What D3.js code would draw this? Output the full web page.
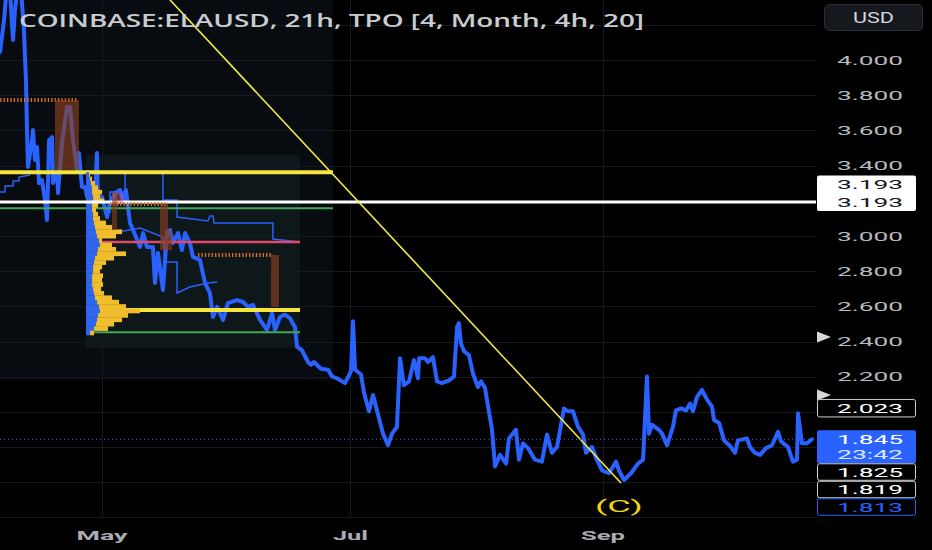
<!DOCTYPE html>
<html><head><meta charset="utf-8">
<script src="https://cdn.jsdelivr.net/npm/d3@7"></script>
<style>html,body{margin:0;padding:0;background:#000;}svg{display:block;}</style>
</head><body>
<svg id="chart" width="932" height="550"></svg>
<script>
// ---------------- DATA ----------------
const titleText = "COINBASE:ELAUSD, 21h, TPO [4, Month, 4h, 20]";
const currencyText = "USD";

const priceDates = [
"2024-04-05 23","2024-04-06 23","2024-04-07 16","2024-04-08 10","2024-04-08 22","2024-04-09 04","2024-04-09 15","2024-04-10 09","2024-04-11 03","2024-04-11 20",
"2024-04-12 08","2024-04-12 14","2024-04-12 20","2024-04-13 20","2024-04-14 01","2024-04-14 13","2024-04-15 01","2024-04-15 13","2024-04-16 06","2024-04-17 00",
"2024-04-17 12","2024-04-18 00","2024-04-18 18","2024-04-18 23","2024-04-19 23","2024-04-20 05","2024-04-21 04","2024-04-22 10","2024-04-23 04","2024-04-23 21",
"2024-04-24 21","2024-04-25 08","2024-04-26 02","2024-04-26 20","2024-04-27 08","2024-04-28 01","2024-04-29 07","2024-04-29 18","2024-04-30 00","2024-05-01 00",
"2024-05-02 06","2024-05-02 23","2024-05-04 05","2024-05-05 10","2024-05-06 04","2024-05-06 21","2024-05-07 21","2024-05-08 15","2024-05-10 08","2024-05-11 02",
"2024-05-12 01","2024-05-13 12","2024-05-14 00","2024-05-14 18","2024-05-15 23","2024-05-16 23","2024-05-17 17","2024-05-18 10","2024-05-19 16","2024-05-20 15",
"2024-05-21 09","2024-05-22 14","2024-05-23 08","2024-05-25 01","2024-05-26 07","2024-05-27 12","2024-05-28 06","2024-05-29 06","2024-05-30 17","2024-05-31 22",
"2024-06-03 03","2024-06-04 15","2024-06-05 20","2024-06-07 02","2024-06-08 19","2024-06-10 12","2024-06-11 18","2024-06-12 11","2024-06-13 17","2024-06-14 22",
"2024-06-16 04","2024-06-17 09","2024-06-17 21","2024-06-19 02","2024-06-20 14","2024-06-21 07","2024-06-22 01","2024-06-23 18","2024-06-25 12","2024-06-26 11",
"2024-06-27 17","2024-06-29 16","2024-07-01 03","2024-07-01 15","2024-07-02 03","2024-07-03 14","2024-07-04 08","2024-07-05 13","2024-07-06 13","2024-07-07 06",
"2024-07-09 00","2024-07-10 05","2024-07-11 05","2024-07-12 10","2024-07-13 04","2024-07-14 03","2024-07-15 09","2024-07-16 14","2024-07-17 14","2024-07-17 20",
"2024-07-19 07","2024-07-20 01","2024-07-21 06","2024-07-22 06","2024-07-23 11","2024-07-25 05","2024-07-26 10","2024-07-27 04","2024-07-27 15","2024-07-28 03",
"2024-07-28 21","2024-07-30 02","2024-07-31 02","2024-08-01 07","2024-08-02 01","2024-08-03 01","2024-08-03 12","2024-08-04 18","2024-08-05 12","2024-08-06 17",
"2024-08-08 05","2024-08-08 22","2024-08-10 15","2024-08-11 09","2024-08-12 09","2024-08-13 14","2024-08-15 07","2024-08-17 00","2024-08-18 06","2024-08-19 11",
"2024-08-20 17","2024-08-22 10","2024-08-23 10","2024-08-24 15","2024-08-25 21","2024-08-27 02","2024-08-27 20","2024-08-29 07","2024-08-30 12","2024-08-31 18",
"2024-09-02 11","2024-09-04 05","2024-09-04 22","2024-09-06 04","2024-09-07 21","2024-09-09 14","2024-09-10 20","2024-09-11 19","2024-09-12 07","2024-09-13 01",
"2024-09-14 18","2024-09-15 12","2024-09-16 17","2024-09-18 04","2024-09-18 22","2024-09-20 04","2024-09-21 09","2024-09-22 09","2024-09-23 02","2024-09-24 02",
"2024-09-25 07","2024-09-26 13","2024-09-27 18","2024-09-28 06","2024-09-29 12","2024-09-30 17","2024-10-02 10","2024-10-03 10","2024-10-04 03","2024-10-06 08",
"2024-10-07 02","2024-10-08 07","2024-10-09 13","2024-10-11 00","2024-10-12 12","2024-10-13 23","2024-10-14 17","2024-10-16 10","2024-10-17 15","2024-10-18 15",
"2024-10-18 21","2024-10-19 20","2024-10-21 02","2024-10-22 07"
];
const priceValues = [
4.045,4.227,4.426,4.398,4.199,4.114,4.284,4.426,4.398,4.170,
3.886,3.602,3.392,3.545,3.602,3.432,3.506,3.301,3.318,3.205,
3.091,3.545,3.562,3.301,3.358,3.244,3.528,3.733,3.733,3.545,
3.375,3.472,3.278,3.278,3.222,3.278,3.222,3.472,3.205,3.222,
3.108,3.188,3.244,3.261,3.205,3.261,3.074,3.034,2.938,3.017,
2.938,2.938,2.733,2.903,2.693,3.017,3.034,2.960,3.017,2.920,
3.017,2.960,2.881,2.864,2.733,2.676,2.540,2.597,2.523,2.619,
2.636,2.625,2.597,2.608,2.523,2.466,2.563,2.466,2.540,2.554,
2.532,2.482,2.372,2.351,2.284,2.268,2.284,2.246,2.240,2.202,
2.191,2.164,2.230,2.515,2.240,2.213,2.109,2.004,2.097,2.031,
1.877,1.811,1.877,1.916,2.306,2.152,2.174,2.295,2.191,2.306,
2.306,2.284,2.312,2.174,2.164,2.180,2.202,2.482,2.505,2.389,
2.345,2.323,2.218,2.141,2.174,2.136,2.070,1.899,1.690,1.756,
1.707,1.850,1.899,1.729,1.822,1.795,1.729,1.718,1.872,1.768,
1.801,2.020,2.004,2.004,1.916,1.872,1.768,1.801,1.729,1.668,
1.652,1.718,1.668,1.614,1.652,1.707,1.729,2.202,1.877,1.927,
1.899,1.877,1.811,1.916,2.009,2.020,2.009,2.048,2.004,2.086,
2.125,2.070,2.031,1.955,1.938,1.839,1.801,1.768,1.839,1.850,
1.801,1.768,1.756,1.795,1.811,1.888,1.833,1.801,1.718,1.729,
1.993,1.822,1.822,1.845
];

const yTickValues = [1.6,1.8,2.0,2.2,2.4,2.6,2.8,3.0,3.2,3.4,3.6,3.8,4.0,4.2];
const monthTickDates = ["2024-05-01 00","2024-07-01 00","2024-09-01 00"];
const monthTickLabels = ["May","Jul","Sep"];

// TPO sessions
const prevSessionRange = ["2024-04-01 00","2024-06-26 17"];
const prevSessionPrices = {high: 4.60, low: 2.182, poc: 3.362, val: 3.157};
const currSessionRange = ["2024-04-27 02","2024-06-18 15"];
const currSessionPrices = {high: 3.460, low: 2.364, vah: 2.966, poc: 2.580, val: 2.453};
const horizontalLevel = 3.193;

// Volume profile of the current session
const profilePrices = [3.350,3.325,3.300,3.275,3.250,3.225,3.200,3.175,3.150,3.125,3.100,3.075,3.050,3.025,3.000,2.975,2.950,2.925,2.900,2.875,2.850,2.825,2.800,2.775,2.750,2.725,2.700,2.675,2.650,2.625,2.600,2.575,2.550,2.525,2.500,2.475,2.450];
const profileVolume = [4,6,9,12,16,14,18,12,10,12,14,20,26,36,30,16,26,30,40,28,20,16,14,17,16,17,15,18,26,33,40,54,42,36,28,22,8];
const profileBlueVolume = [3,4,5,6,6,7,7,6,6,7,7,8,9,10,11,13,14,12,11,9,8,7,7,6,6,6,7,8,9,11,13,14,12,11,10,8,4];

// Developing value lines
const devLeftDates = ["2024-04-05 23","2024-04-07 05","2024-04-07 05","2024-04-09 04","2024-04-09 04","2024-04-10 15","2024-04-10 15","2024-04-13 08"];
const devLeftValues = [3.250,3.250,3.284,3.284,3.313,3.313,3.335,3.347];
const devUpperDates = ["2024-05-15 23","2024-05-15 23","2024-05-19 10","2024-05-19 10","2024-05-27 00","2024-05-27 12","2024-05-28 06","2024-05-28 12","2024-06-11 23","2024-06-11 23","2024-06-18 15"];
const devUpperValues = [3.358,3.205,3.205,3.108,3.085,3.114,3.114,3.074,3.074,2.983,2.966];
const devStubDates = ["2024-05-02 23","2024-05-02 23","2024-05-06 16","2024-05-06 16"];
const devStubValues = [3.131,3.250,3.250,3.358];
const devLowerDates = ["2024-05-03 17","2024-05-10 08","2024-05-15 23","2024-05-16 11","2024-05-19 10","2024-05-19 10","2024-05-22 14","2024-05-27 00","2024-05-29 06"];
const devLowerValues = [3.017,3.045,2.994,2.852,2.852,2.676,2.710,2.733,2.739];

// TPO period markers: dotted level + bar
const markLineStart = ["2024-04-01 00","2024-05-02 23","2024-05-24 14"];
const markLineEnd   = ["2024-04-25 03","2024-05-17 05","2024-06-11 23"];
const markLevel     = [3.773,3.182,2.892];
const markBarStart  = ["2024-04-19 11","2024-05-15 06","2024-06-11 12"];
const markBarEnd    = ["2024-04-25 08","2024-05-17 05","2024-06-13 11"];
const markBarLow    = [3.375,2.920,2.597];
const extraBarStart = ["2024-05-03 11","2024-05-16 11"];
const extraBarEnd   = ["2024-05-04 16","2024-05-18 05"];
const extraBarHigh  = [3.250,3.034];
const extraBarLow   = [3.034,2.920];
const pinkBarStart = ["2024-05-03 17"];
const pinkBarEnd   = ["2024-05-06 04"];
const pinkBarHigh  = [3.244];
const pinkBarLow   = [3.188];

// Trend line and wave label
const trendDates = ["2024-05-17 17","2024-09-05 10"];
const trendValues = [4.341,1.597];
const waveLabel = "(C)";
const waveLabelDate = "2024-09-04 22";
const waveLabelPrice = 1.466;

// Price scale labels
const lastPrice = 1.845;
const countdownText = "23:42";
const scaleLabelTexts  = ["3.193","3.193","2.023","1.845","1.825","1.819","1.813"];
const scaleLabelPrices = [3.193,3.193,2.023,1.845,1.825,1.819,1.813];
const flagPrices = [2.426,2.097];

// ---------------- CHART ----------------
const parse = d3.timeParse("%Y-%m-%d %H");
const plotW = 816, plotH = 517;
const svg = d3.select("#chart");
const FONT = "Roboto, 'Open Sans', sans-serif";

svg.append("rect").attr("width",932).attr("height",550).attr("fill","#000");

const x = d3.scaleTime().domain([parse("2024-04-05 23"), parse("2024-10-23 07")]).range([0, plotW]);
const y = d3.scaleLinear().domain([1.6, 4.0]).range([482.4, 60]);

svg.append("defs").append("clipPath").attr("id","plotclip")
  .append("rect").attr("x",0).attr("y",0).attr("width",plotW).attr("height",plotH);
const plot = svg.append("g").attr("clip-path","url(#plotclip)");

// session boxes
plot.append("rect")
  .attr("x", x(parse(prevSessionRange[0]))).attr("y", y(prevSessionPrices.high))
  .attr("width", x(parse(prevSessionRange[1])) - x(parse(prevSessionRange[0])))
  .attr("height", y(prevSessionPrices.low) - y(prevSessionPrices.high))
  .attr("fill", "#080c10");
plot.append("rect")
  .attr("x", x(parse(currSessionRange[0]))).attr("y", y(currSessionPrices.high))
  .attr("width", x(parse(currSessionRange[1])) - x(parse(currSessionRange[0])))
  .attr("height", y(currSessionPrices.low) - y(currSessionPrices.high))
  .attr("fill", "#0e171a");

// grid
plot.append("g").selectAll("line").data(yTickValues).join("line")
  .attr("x1",0).attr("x2",plotW).attr("y1",d=>Math.round(y(d))+0.5).attr("y2",d=>Math.round(y(d))+0.5)
  .attr("stroke","#16191e").attr("stroke-width",1);
plot.append("g").selectAll("line").data(monthTickDates).join("line")
  .attr("y1",0).attr("y2",plotH).attr("x1",d=>Math.round(x(parse(d)))+0.5).attr("x2",d=>Math.round(x(parse(d)))+0.5)
  .attr("stroke","#16191e").attr("stroke-width",1);
svg.append("line").attr("x1",0).attr("x2",plotW).attr("y1",plotH+0.5).attr("y2",plotH+0.5).attr("stroke","#16191e");

const lineGen = d3.line().x(d=>x(d[0])).y(d=>y(d[1]));
const pairs = (ds, vs) => ds.map((d,i)=>[parse(d), vs[i]]);

// developing value lines
[[devLeftDates,devLeftValues],[devUpperDates,devUpperValues],[devStubDates,devStubValues],[devLowerDates,devLowerValues]]
.forEach(([ds,vs])=>{
  plot.append("path").datum(pairs(ds,vs)).attr("d",lineGen)
    .attr("fill","none").attr("stroke","#2962ff").attr("stroke-width",1.5);
});

// price line
plot.append("path").datum(pairs(priceDates, priceValues))
  .attr("d", lineGen).attr("fill","none").attr("stroke","#2962ff")
  .attr("stroke-width",4).attr("stroke-linejoin","round").attr("stroke-linecap","round");

// session level lines
function hline(price, d0, d1, color, w){
  plot.append("line").attr("x1", x(parse(d0))).attr("x2", x(parse(d1)))
    .attr("y1", y(price)).attr("y2", y(price)).attr("stroke", color).attr("stroke-width", w);
}
hline(prevSessionPrices.poc, prevSessionRange[0], prevSessionRange[1], "#f6e53c", 4);
hline(prevSessionPrices.val, prevSessionRange[0], prevSessionRange[1], "#43a853", 2);
hline(currSessionPrices.vah, currSessionRange[0], currSessionRange[1], "#e2486a", 2.5);
hline(currSessionPrices.poc, currSessionRange[0], currSessionRange[1], "#f6e53c", 4);
hline(currSessionPrices.val, currSessionRange[0], currSessionRange[1], "#43a853", 2);

// volume profile
const volX = d3.scaleLinear().domain([0, d3.max(profileVolume)]).range([0, 54]);
const px0 = x(parse(currSessionRange[0]));
const half = 0.0125;
const prof = plot.append("g");
prof.selectAll("rect.b").data(profilePrices).join("rect").attr("class","b")
  .attr("x", px0).attr("y", d=>y(d+half)).attr("height", d=>y(d-half)-y(d+half)+0.3)
  .attr("width", (d,i)=>volX(profileBlueVolume[i])).attr("fill","#2f66f0");
prof.selectAll("rect.yv").data(profilePrices).join("rect").attr("class","yv")
  .attr("x", (d,i)=>px0+volX(profileBlueVolume[i])).attr("y", d=>y(d+half)).attr("height", d=>y(d-half)-y(d+half)+0.3)
  .attr("width", (d,i)=>Math.max(0, volX(profileVolume[i]) - volX(profileBlueVolume[i]))).attr("fill","#f0bd2c");

// white horizontal level across plot
plot.append("line").attr("x1",0).attr("x2",plotW).attr("y1",y(horizontalLevel)).attr("y2",y(horizontalLevel))
  .attr("stroke","#ffffff").attr("stroke-width",3);

// TPO markers
markLevel.forEach((lv,i)=>{
  plot.append("line").attr("x1",x(parse(markLineStart[i]))).attr("x2",x(parse(markLineEnd[i])))
    .attr("y1",y(lv)).attr("y2",y(lv)).attr("stroke","#e0702a").attr("stroke-width",4).attr("stroke-dasharray","1.3,2.1");
  plot.append("rect").attr("x",x(parse(markBarStart[i]))).attr("y",y(lv))
    .attr("width",x(parse(markBarEnd[i]))-x(parse(markBarStart[i]))).attr("height",y(markBarLow[i])-y(lv))
    .attr("fill","#8a4020").attr("opacity",0.65);
});
extraBarHigh.forEach((hv,i)=>{
  plot.append("rect").attr("x",x(parse(extraBarStart[i]))).attr("y",y(hv))
    .attr("width",x(parse(extraBarEnd[i]))-x(parse(extraBarStart[i]))).attr("height",y(extraBarLow[i])-y(hv))
    .attr("fill","#8a4020").attr("opacity",0.6);
});
pinkBarHigh.forEach((hv,i)=>{
  plot.append("rect").attr("x",x(parse(pinkBarStart[i]))).attr("y",y(hv))
    .attr("width",x(parse(pinkBarEnd[i]))-x(parse(pinkBarStart[i]))).attr("height",y(pinkBarLow[i])-y(hv))
    .attr("fill","#d05a6a").attr("opacity",0.45);
});

// trend line
plot.append("path").datum(pairs(trendDates, trendValues)).attr("d", lineGen)
  .attr("stroke","#f2e94a").attr("stroke-width",1.6).attr("fill","none");

// last price dotted line
plot.append("line").attr("x1",0).attr("x2",plotW).attr("y1",y(lastPrice)).attr("y2",y(lastPrice))
  .attr("stroke","#2962ff").attr("stroke-width",1).attr("stroke-dasharray","1,3");

// wave label
svg.append("text").attr("x", x(parse(waveLabelDate))-24).attr("y", y(waveLabelPrice)+6)
  .attr("textLength",48).attr("lengthAdjust","spacingAndGlyphs")
  .attr("font-family",FONT).attr("font-size",17).attr("fill","#f2d80e").text(waveLabel);

// ---- price-scale label boxes (layout: stacked rows) ----
const rowH = 17.5, bx = 817, bw = 99;
const fmt = d3.format(".3f");
const occupied = []; // [top,bottom] of scale label boxes
function labelText(txt, cy, color){
  svg.append("text").attr("x",837).attr("y",cy+4.6).attr("textLength",66).attr("lengthAdjust","spacingAndGlyphs")
    .attr("font-family",FONT).attr("font-size",13).attr("fill",color).text(txt);
}
const labelLayer = svg.append("g");
// 3.193 pair (white box, upper row pushed up)
const c193b = y(scaleLabelPrices[1]), c193a = c193b - rowH;
occupied.push([c193a-9, c193b+9]);
const c023 = y(scaleLabelPrices[2]);
occupied.push([c023-8.5, c023+9]);
const cLast = y(scaleLabelPrices[3]);
occupied.push([cLast-9, cLast - 9 + 2*rowH - 2 + 3*rowH]);

// right price scale tick labels (hidden where a label box sits)
const visibleTicks = yTickValues.filter(v => v <= 4.0 && !occupied.some(([a,b]) => y(v) > a-7 && y(v) < b+7));
svg.append("g").selectAll("text").data(visibleTicks).join("text")
  .attr("x",837).attr("y",d=>y(d)+4.6).attr("textLength",66).attr("lengthAdjust","spacingAndGlyphs")
  .attr("font-family",FONT).attr("font-size",13).attr("fill","#b6b9bf").text(d=>fmt(d));

// flags
flagPrices.forEach(p=>{
  const cy = y(p);
  svg.append("path").attr("d",`M817,${cy-5.5}L831,${cy}L817,${cy+5.5}Z`).attr("fill","#d8d8d8");
});

svg.append("rect").attr("x",bx).attr("y",c193a-9).attr("width",bw).attr("height",c193b-c193a+18).attr("rx",2).attr("fill","#ffffff");
labelText(scaleLabelTexts[0], c193a, "#131722");
labelText(scaleLabelTexts[1], c193b, "#131722");

svg.append("rect").attr("x",bx+0.5).attr("y",c023-8.5).attr("width",bw-1).attr("height",rowH).attr("rx",2)
  .attr("fill","#000").attr("stroke","#d0d0d0").attr("stroke-width",1);
labelText(scaleLabelTexts[2], c023, "#ffffff");
svg.append("line").attr("x1",bx+0.5).attr("x2",bx+0.5).attr("y1",c023-18).attr("y2",c023-8).attr("stroke","#d8d8d8");

svg.append("rect").attr("x",bx).attr("y",cLast-9).attr("width",bw).attr("height",2*rowH-2).attr("rx",2).attr("fill","#2962ff");
labelText(scaleLabelTexts[3], cLast, "#ffffff");
labelText(countdownText, cLast+15.5, "#dfe6ff");
[4,5,6].forEach((idx,k)=>{
  const top = cLast - 9 + 2*rowH - 2 + k*rowH;
  const blue = idx===6;
  svg.append("rect").attr("x",bx+0.5).attr("y",top+0.5).attr("width",bw-1).attr("height",rowH-1).attr("rx",2)
    .attr("fill","#000").attr("stroke", blue ? "#2962ff" : "#d0d0d0").attr("stroke-width",1);
  labelText(scaleLabelTexts[idx], top + rowH/2, blue ? "#2962ff" : "#ffffff");
});

// time axis labels
monthTickDates.forEach((d,i)=>{
  const w = [51,35,44][i];
  svg.append("text").attr("x", x(parse(d)) - w/2).attr("y", 540)
    .attr("textLength", w).attr("lengthAdjust","spacingAndGlyphs")
    .attr("font-family",FONT).attr("font-size",13.5).attr("font-weight",700).attr("fill","#a9acb2").text(monthTickLabels[i]);
});

// title
svg.append("text").attr("x",19).attr("y",27).attr("textLength",625).attr("lengthAdjust","spacingAndGlyphs")
  .attr("font-family","'Open Sans', Roboto, sans-serif").attr("font-size",17.5).attr("font-weight",600)
  .attr("fill","#c9ccd1").text(titleText);

// currency button
svg.append("rect").attr("x",824.5).attr("y",4.5).attr("width",98).attr("height",26).attr("rx",5)
  .attr("fill","#15181d").attr("stroke","#2a2e36");
svg.append("text").attr("x",853).attr("y",23).attr("textLength",41).attr("lengthAdjust","spacingAndGlyphs")
  .attr("font-family",FONT).attr("font-size",14).attr("fill","#d1d4dc").text(currencyText);
</script>
</body></html>
